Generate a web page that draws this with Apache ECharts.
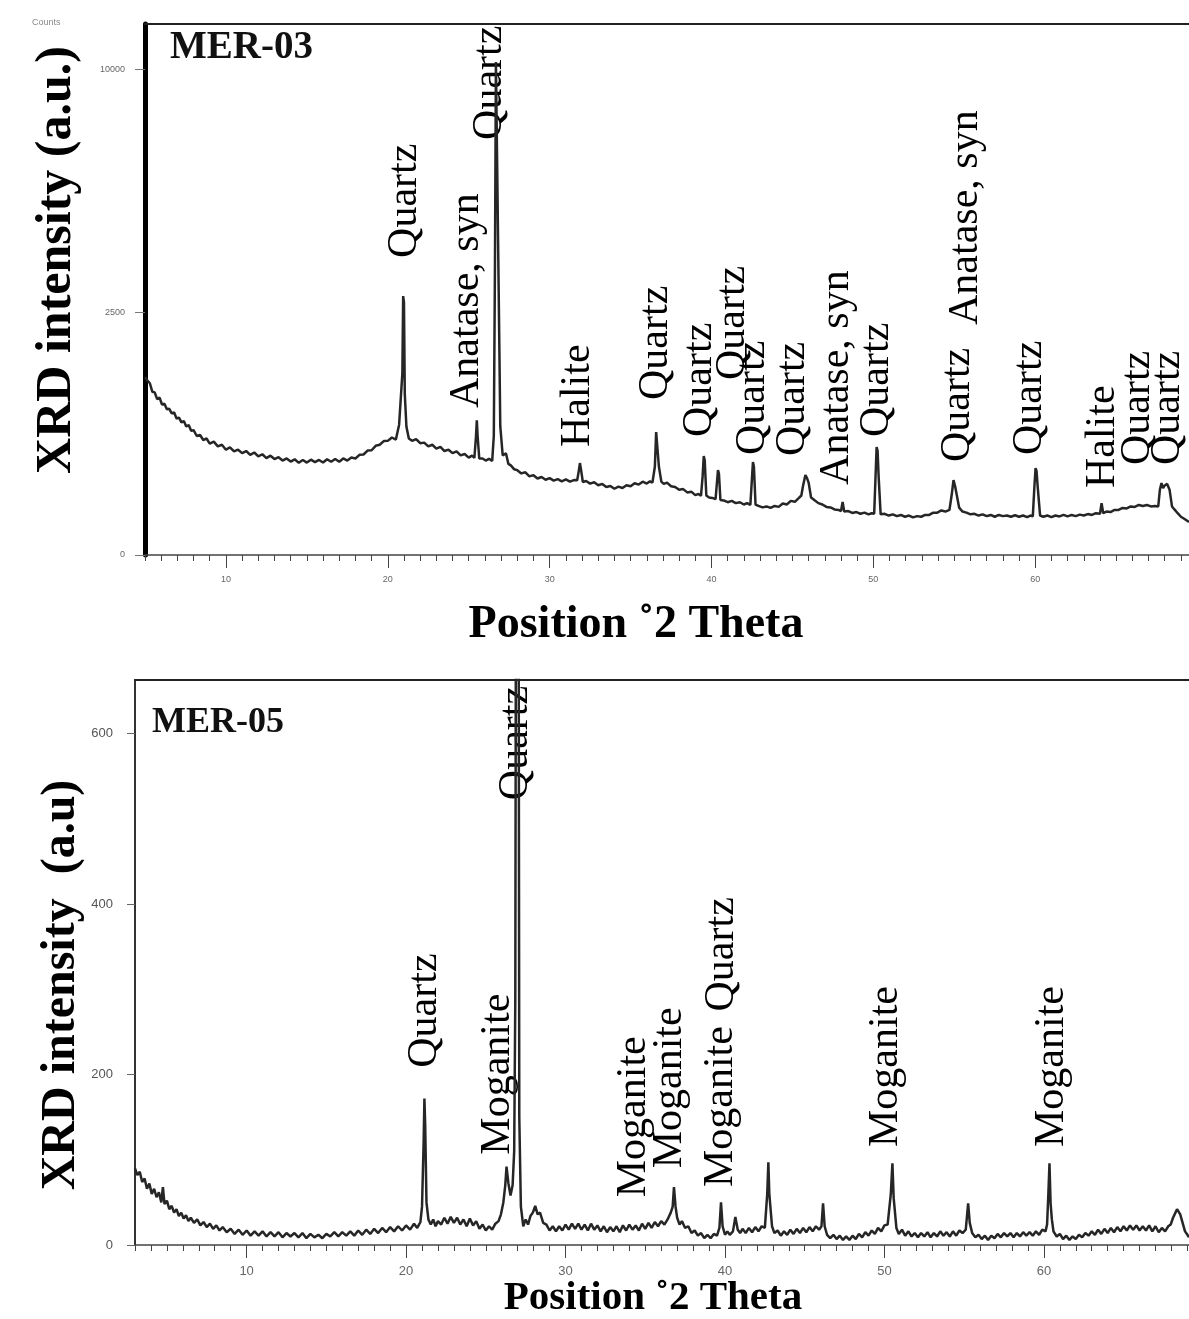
<!DOCTYPE html>
<html><head><meta charset="utf-8">
<script src="https://cdn.jsdelivr.net/npm/echarts@6.0.0/dist/echarts.min.js"></script>
<style>html,body{margin:0;padding:0;background:#fff}#chart{width:1189px;height:1319px}</style>
</head><body><div id="chart"></div>
<script>
// ---------- MER-03 pattern: [2θ (deg), counts] ----------
const mer03Pattern = [
[5.0,1340],[5.15,1290],[5.3,1250],[5.45,1130],[5.6,1120],[5.75,1030],[5.9,1050],[6.05,960],[6.2,970],[6.35,900],[6.5,905],[6.65,850],[6.8,860],[6.95,790],[7.1,800],[7.25,745],[7.4,760],[7.55,700],[7.7,715],[7.85,655],[8.0,660],[8.2,600],[8.4,610],[8.6,560],[8.8,575],[9.0,525],[9.25,545],[9.5,500],[9.75,515],[10.0,470],[10.25,490],[10.5,455],[10.75,470],[11.0,440],[11.25,458],[11.5,425],[11.75,445],[12.0,412],[12.25,430],[12.5,398],[12.75,418],[13.0,390],[13.25,405],[13.5,378],[13.75,395],[14.0,370],[14.25,388],[14.5,360],[14.75,382],[15.0,362],[15.25,385],[15.5,365],[15.75,383],[16.0,362],[16.25,388],[16.5,368],[16.75,390],[17.0,368],[17.25,395],[17.5,378],[17.75,402],[18.0,395],[18.25,425],[18.5,428],[18.75,462],[19.0,465],[19.25,505],[19.5,515],[19.75,550],[20.0,552],[20.25,585],[20.5,565],[20.7,720],[20.9,1400],[20.95,2840],[21.0,2700],[21.05,1100],[21.15,700],[21.3,575],[21.5,552],[21.75,570],[22.0,530],[22.25,535],[22.5,500],[22.75,515],[23.0,480],[23.25,495],[23.5,458],[23.75,470],[24.0,440],[24.25,455],[24.5,420],[24.75,432],[25.0,402],[25.2,418],[25.35,400],[25.45,600],[25.5,770],[25.55,600],[25.65,395],[25.85,395],[26.05,378],[26.25,392],[26.45,375],[26.55,600],[26.62,3500],[26.68,10300],[26.78,10300],[26.85,3000],[26.95,700],[27.1,420],[27.3,438],[27.45,352],[27.6,340],[27.8,312],[28.0,305],[28.25,282],[28.5,290],[28.75,262],[29.0,270],[29.25,248],[29.5,258],[29.75,240],[30.0,250],[30.25,234],[30.5,244],[30.75,230],[31.0,242],[31.25,228],[31.5,238],[31.7,236],[31.8,300],[31.87,358],[31.95,300],[32.05,226],[32.25,232],[32.5,216],[32.75,224],[33.0,206],[33.25,214],[33.5,196],[33.75,202],[34.0,186],[34.25,198],[34.5,190],[34.75,206],[35.0,200],[35.25,218],[35.5,210],[35.75,228],[36.0,216],[36.2,230],[36.35,222],[36.5,330],[36.58,640],[36.65,620],[36.75,330],[36.9,228],[37.05,214],[37.25,222],[37.5,200],[37.75,196],[38.0,180],[38.25,184],[38.5,166],[38.75,170],[39.0,152],[39.2,158],[39.35,148],[39.45,260],[39.52,415],[39.58,380],[39.68,150],[39.85,140],[40.05,138],[40.25,132],[40.35,240],[40.4,306],[40.46,280],[40.55,128],[40.75,126],[41.0,118],[41.25,124],[41.5,114],[41.75,118],[42.0,108],[42.2,114],[42.4,106],[42.5,250],[42.56,366],[42.62,330],[42.72,108],[42.9,102],[43.15,96],[43.4,100],[43.65,94],[43.9,102],[44.15,98],[44.4,112],[44.65,108],[44.9,124],[45.15,120],[45.4,138],[45.55,150],[45.65,200],[45.8,271],[45.9,250],[46.0,222],[46.15,140],[46.35,128],[46.6,114],[46.85,108],[47.1,98],[47.35,96],[47.6,88],[47.85,86],[48.0,82],[48.1,119],[48.2,80],[48.45,82],[48.7,75],[48.95,78],[49.2,72],[49.45,76],[49.7,70],[49.9,74],[50.05,72],[50.13,250],[50.2,494],[50.26,460],[50.33,250],[50.45,70],[50.7,72],[50.95,66],[51.2,70],[51.45,64],[51.7,68],[51.95,62],[52.2,66],[52.45,60],[52.7,64],[52.95,62],[53.2,68],[53.45,68],[53.7,76],[53.95,76],[54.2,84],[54.45,80],[54.7,86],[54.85,160],[54.95,238],[55.05,200],[55.15,190],[55.3,95],[55.5,80],[55.75,76],[56.0,70],[56.25,72],[56.5,66],[56.75,70],[57.0,64],[57.25,68],[57.5,62],[57.75,68],[58.0,64],[58.25,66],[58.5,62],[58.75,67],[59.0,62],[59.25,66],[59.5,61],[59.7,66],[59.85,63],[59.95,200],[60.02,320],[60.08,300],[60.15,200],[60.3,66],[60.5,62],[60.75,66],[61.0,61],[61.25,66],[61.5,63],[61.75,68],[62.0,63],[62.25,68],[62.5,64],[62.75,69],[63.0,66],[63.25,71],[63.5,68],[63.75,74],[64.0,72],[64.1,114],[64.2,74],[64.4,80],[64.65,78],[64.9,86],[65.15,86],[65.4,94],[65.65,92],[65.9,100],[66.15,98],[66.4,106],[66.65,102],[66.9,106],[67.15,100],[67.4,102],[67.6,100],[67.7,180],[67.8,219],[67.9,190],[68.0,205],[68.15,214],[68.3,180],[68.45,100],[68.6,88],[68.8,74],[69.0,62],[69.25,54],[69.5,46]
];

// ---------- MER-05 pattern: [2θ (deg), intensity] ----------
const mer05Pattern = [
[3.0,90],[3.15,82],[3.3,86],[3.45,74],[3.6,78],[3.75,66],[3.9,72],[4.05,60],[4.2,66],[4.35,56],[4.5,62],[4.65,50],[4.75,68],[4.85,48],[5.0,52],[5.15,42],[5.3,46],[5.45,38],[5.6,42],[5.75,34],[5.9,38],[6.05,31],[6.2,35],[6.35,28],[6.5,32],[6.7,26],[6.9,30],[7.1,23],[7.3,27],[7.5,21],[7.7,25],[7.9,19],[8.1,23],[8.3,17],[8.5,21],[8.75,15],[9.0,19],[9.25,13],[9.5,18],[9.75,12],[10.0,17],[10.25,11],[10.5,16],[10.75,11],[11.0,16],[11.25,10],[11.5,15],[11.75,10],[12.0,15],[12.25,9],[12.5,14],[12.75,10],[13.0,14],[13.25,9],[13.5,14],[13.75,8],[14.0,13],[14.25,9],[14.5,12],[14.75,8],[15.0,13],[15.25,10],[15.5,15],[15.75,10],[16.0,15],[16.25,11],[16.5,16],[16.75,11],[17.0,17],[17.25,12],[17.5,18],[17.75,13],[18.0,19],[18.25,14],[18.5,20],[18.75,15],[19.0,21],[19.25,16],[19.5,22],[19.75,17],[20.0,23],[20.25,18],[20.5,25],[20.7,20],[20.9,27],[21.0,45],[21.1,120],[21.15,172],[21.2,140],[21.28,50],[21.4,30],[21.55,24],[21.7,30],[21.85,22],[22.0,28],[22.2,24],[22.4,32],[22.6,25],[22.8,33],[23.0,26],[23.2,32],[23.4,24],[23.6,30],[23.8,22],[24.0,31],[24.2,23],[24.4,28],[24.6,19],[24.8,24],[25.0,17],[25.2,22],[25.4,18],[25.6,25],[25.8,28],[25.95,36],[26.1,50],[26.22,70],[26.3,92],[26.42,72],[26.55,58],[26.68,70],[26.78,110],[26.85,290],[26.9,900],[27.05,900],[27.1,150],[27.2,45],[27.35,22],[27.5,30],[27.65,24],[27.8,34],[27.95,38],[28.1,46],[28.25,36],[28.4,38],[28.6,26],[28.8,24],[29.0,17],[29.2,22],[29.4,16],[29.6,22],[29.8,17],[30.0,24],[30.2,18],[30.4,25],[30.6,19],[30.8,25],[31.0,18],[31.2,24],[31.4,17],[31.6,25],[31.8,18],[32.0,23],[32.2,16],[32.4,22],[32.6,15],[32.8,21],[33.0,16],[33.2,22],[33.4,15],[33.6,23],[33.8,17],[34.0,24],[34.2,18],[34.4,23],[34.6,17],[34.8,25],[35.0,19],[35.2,26],[35.4,20],[35.6,27],[35.8,22],[36.0,28],[36.2,24],[36.4,30],[36.6,38],[36.72,45],[36.8,68],[36.9,45],[37.0,32],[37.15,24],[37.3,28],[37.5,20],[37.7,22],[37.9,14],[38.1,17],[38.3,11],[38.5,14],[38.7,8],[38.9,12],[39.1,8],[39.3,13],[39.5,11],[39.65,20],[39.75,50],[39.85,22],[40.0,12],[40.15,16],[40.3,12],[40.5,16],[40.65,33],[40.8,18],[40.95,14],[41.1,19],[41.3,14],[41.5,20],[41.7,15],[41.9,21],[42.1,16],[42.3,22],[42.5,20],[42.65,60],[42.72,97],[42.78,60],[42.95,22],[43.1,14],[43.3,17],[43.5,11],[43.7,16],[43.9,12],[44.1,18],[44.3,13],[44.5,19],[44.7,14],[44.9,20],[45.1,15],[45.3,21],[45.5,16],[45.7,22],[45.9,18],[46.05,22],[46.15,49],[46.25,22],[46.4,12],[46.6,8],[46.8,12],[47.0,7],[47.2,11],[47.4,6],[47.6,10],[47.8,6],[48.0,11],[48.2,7],[48.4,13],[48.6,9],[48.8,15],[49.0,11],[49.2,17],[49.4,13],[49.6,20],[49.8,16],[50.0,23],[50.2,24],[50.4,60],[50.5,96],[50.58,55],[50.75,20],[50.9,13],[51.1,18],[51.3,11],[51.5,16],[51.7,10],[51.9,14],[52.1,9],[52.3,14],[52.5,10],[52.7,15],[52.9,9],[53.1,14],[53.3,10],[53.5,16],[53.7,11],[53.9,15],[54.1,10],[54.3,16],[54.5,11],[54.7,17],[54.9,14],[55.1,18],[55.25,49],[55.35,26],[55.5,14],[55.7,9],[55.9,12],[56.1,7],[56.3,11],[56.5,6],[56.7,11],[56.9,8],[57.1,13],[57.3,9],[57.5,14],[57.7,10],[57.9,14],[58.1,9],[58.3,14],[58.5,10],[58.7,15],[58.9,11],[59.1,15],[59.3,11],[59.5,16],[59.7,12],[59.9,18],[60.1,16],[60.2,24],[60.28,60],[60.35,96],[60.42,49],[60.5,30],[60.6,16],[60.8,10],[61.0,13],[61.2,7],[61.4,11],[61.6,6],[61.8,10],[62.0,7],[62.2,12],[62.4,9],[62.6,14],[62.8,11],[63.0,16],[63.2,12],[63.4,18],[63.6,13],[63.8,19],[64.0,14],[64.2,20],[64.4,15],[64.6,21],[64.8,16],[65.0,22],[65.2,17],[65.4,23],[65.6,18],[65.8,23],[66.0,17],[66.2,22],[66.4,17],[66.6,23],[66.8,16],[67.0,22],[67.2,15],[67.4,20],[67.6,16],[67.8,22],[67.95,24],[68.1,32],[68.25,38],[68.35,42],[68.45,44],[68.55,36],[68.7,26],[68.85,16],[69.0,12],[69.1,9]
];

// ---------- peak annotations ----------
const mer03LabelText  = ['Quartz','Anatase, syn','Quartz','Halite','Quartz','Quartz','Quartz','Quartz','Quartz','Anatase, syn','Quartz','Anatase, syn','Quartz','Quartz','Halite','Quartz','Quartz'];
const mer03LabelTheta = [21.06, 24.89, 26.31, 31.75, 36.56, 39.28, 41.32, 42.55, 45.03, 47.74, 50.21, 55.71, 55.22, 59.66, 64.17, 66.33, 68.19];
const mer03LabelBase  = [3740, 916, 7300, 494, 1018, 590, 1297, 424, 415, 208, 590, 2242, 366, 424, 190, 343, 343];

const mer05LabelText  = ['Quartz','Moganite','Quartz','Moganite','Moganite','Moganite','Quartz','Moganite','Moganite'];
const mer05LabelTheta = [21.19, 25.77, 26.90, 34.31, 36.56, 39.76, 39.82, 50.11, 60.53];
const mer05LabelBase  = [208, 106, 522, 56, 90, 68, 274, 115, 115];

// ---------- axis ticks ----------
const thetaTickLabels = [10, 20, 30, 40, 50, 60];
const mer03CountTicks = [0, 2500, 10000];
const mer05CountTicks = [0, 200, 400, 600];

const SERIF = "'Liberation Serif','Times New Roman',serif";
const SMALL = "'Liberation Sans Narrow','Liberation Sans','DejaVu Sans',sans-serif";
const sq = v => Math.sqrt(v);

function labelSeries(xi, yi, texts, thetas, bases, transform) {
  return {
    type: 'custom', coordinateSystem: 'cartesian2d', xAxisIndex: xi, yAxisIndex: yi,
    silent: true, clip: false,
    data: thetas.map((t, i) => [t, transform(bases[i])]),
    renderItem: (params, api) => {
      const p = api.coord([api.value(0), api.value(1)]);
      return {
        type: 'text', x: p[0], y: p[1], rotation: Math.PI / 2,
        style: { text: texts[params.dataIndex], font: '42px ' + SERIF, fill: '#000', align: 'left', verticalAlign: 'middle' }
      };
    }
  };
}

function thetaAxes(grid, min, max, labelSize, labelMargin) {
  return [
    { gridIndex: grid, type: 'value', min: min, max: max, interval: 1, position: 'bottom',
      axisLine: { show: true, onZero: false, lineStyle: { color: '#444', width: 1.5 } },
      axisTick: { show: true, length: 6, lineStyle: { color: '#444' } },
      axisLabel: { show: false }, splitLine: { show: false } },
    { gridIndex: grid, type: 'value', min: min, max: max, position: 'bottom',
      axisLine: { show: false, onZero: false },
      axisTick: { show: true, length: 13, customValues: thetaTickLabels, lineStyle: { color: '#444' } },
      axisLabel: { show: true, customValues: thetaTickLabels, margin: labelMargin, fontSize: labelSize, color: '#666', fontFamily: SMALL },
      splitLine: { show: false } },
    { gridIndex: grid, type: 'value', min: min, max: max, position: 'top',
      axisLine: { show: true, onZero: false, lineStyle: { color: '#222', width: 2 } },
      axisTick: { show: false }, axisLabel: { show: false }, splitLine: { show: false } }
  ];
}

const chart = echarts.init(document.getElementById('chart'), null, { renderer: 'canvas' });
chart.setOption({
  animation: false,
  backgroundColor: '#fff',
  grid: [
    { left: 145, top: 24, width: 1044, height: 531 },
    { left: 135, top: 680, width: 1054, height: 565 }
  ],
  xAxis: [].concat(thetaAxes(0, 5, 69.5, 9, 20), thetaAxes(1, 3, 69.1, 13, 20)),
  yAxis: [
    { gridIndex: 0, type: 'value', min: 0, max: 109.3,
      axisLine: { show: true, onZero: false, lineStyle: { color: '#000', width: 5 } },
      axisTick: { show: true, length: 10, customValues: mer03CountTicks.map(sq), lineStyle: { color: '#777' } },
      axisLabel: { show: true, customValues: mer03CountTicks.map(sq), formatter: v => String(Math.round(v * v)), margin: 20, fontSize: 9, color: '#666', fontFamily: SMALL },
      splitLine: { show: false } },
    { gridIndex: 1, type: 'value', min: 0, max: 663,
      axisLine: { show: true, onZero: false, lineStyle: { color: '#333', width: 2 } },
      axisTick: { show: true, length: 8, customValues: mer05CountTicks, lineStyle: { color: '#666' } },
      axisLabel: { show: true, customValues: mer05CountTicks, margin: 22, fontSize: 13, color: '#555', fontFamily: SMALL },
      splitLine: { show: false } }
  ],
  series: [
    { type: 'line', xAxisIndex: 0, yAxisIndex: 0, showSymbol: false, symbol: 'none', silent: true,
      lineStyle: { color: '#262626', width: 2.5 },
      data: mer03Pattern.map(d => [d[0], sq(d[1])]) },
    { type: 'line', xAxisIndex: 3, yAxisIndex: 1, showSymbol: false, symbol: 'none', silent: true,
      lineStyle: { color: '#262626', width: 2.5 },
      data: mer05Pattern },
    labelSeries(0, 0, mer03LabelText, mer03LabelTheta, mer03LabelBase, sq),
    labelSeries(3, 1, mer05LabelText, mer05LabelTheta, mer05LabelBase, v => v)
  ],
  graphic: [
    { type: 'text', x: 32, y: 18, style: { text: 'Counts', font: '9px ' + SMALL, fill: '#888' } },
    { type: 'text', x: 170, y: 48, style: { text: 'MER-03', font: 'bold 39px ' + SERIF, fill: '#111', verticalAlign: 'middle' } },
    { type: 'text', x: 152, y: 723, style: { text: 'MER-05', font: 'bold 36px ' + SERIF, fill: '#111', verticalAlign: 'middle' } },
    { type: 'text', x: 57, y: 260, rotation: Math.PI / 2, style: { text: 'XRD intensity (a.u.)', font: 'bold 50px ' + SERIF, fill: '#000', align: 'center', verticalAlign: 'middle' } },
    { type: 'text', x: 62, y: 985, rotation: Math.PI / 2, style: { text: 'XRD intensity  (a.u)', font: 'bold 48px ' + SERIF, fill: '#000', align: 'center', verticalAlign: 'middle' } },
    { type: 'text', x: 636, y: 625, style: { text: 'Position \u02DA2 Theta', font: 'bold 46px ' + SERIF, fill: '#000', align: 'center', verticalAlign: 'middle' } },
    { type: 'text', x: 653, y: 1298, style: { text: 'Position \u02DA2 Theta', font: 'bold 41px ' + SERIF, fill: '#000', align: 'center', verticalAlign: 'middle' } }
  ]
});
</script>
</body></html>
